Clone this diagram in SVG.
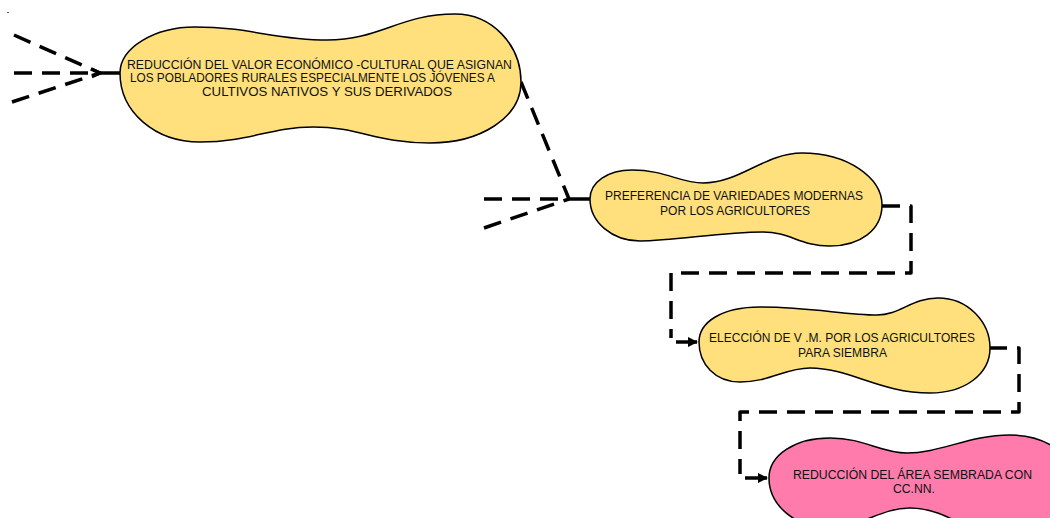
<svg xmlns="http://www.w3.org/2000/svg" width="1050" height="518" viewBox="0 0 1050 518">
  <defs>
    <style>
      .node { stroke: #000; stroke-width: 1.5; }
      .yellow { fill: #FFE07D; }
      .pink { fill: #FF7BAC; }
      .lbl { font-family: "Liberation Sans", Arial, sans-serif; font-size: 12px; fill: #111; }
      .dash { fill: none; stroke: #000; stroke-width: 3.5; stroke-dasharray: 18 10; stroke-linejoin: round; }
      .solid { fill: none; stroke: #000; stroke-width: 3.5; }
    </style>
    <marker id="arrow" viewBox="0 0 10 10" refX="9" refY="5" markerWidth="3" markerHeight="3" orient="auto" markerUnits="strokeWidth">
      <path d="M0,0 L10,5 L0,10 Z" fill="#000"/>
    </marker>
  </defs>
  <rect width="1050" height="518" fill="#fff"/>
  <rect x="7" y="12" width="2" height="1" fill="#555"/>

  <g id="connectors">
    <!-- into node 1 -->
    <line class="dash" x1="14" y1="35" x2="100" y2="73"/>
    <line class="dash" x1="14" y1="73" x2="100" y2="73"/>
    <line class="dash" x1="12" y1="102" x2="100" y2="73"/>
    <path d="M92,69 L101,73 L92,77" fill="none" stroke="#000" stroke-width="2.5"/>
    <line class="solid" x1="98" y1="73" x2="121" y2="73"/>
    <!-- into node 2 -->
    <line class="dash" x1="521" y1="82" x2="569" y2="199"/>
    <line class="dash" x1="484" y1="199" x2="569" y2="199"/>
    <line class="dash" x1="484" y1="228" x2="569" y2="199"/>
    <line class="solid" x1="567" y1="199" x2="591" y2="199"/>
    <!-- node 2 to node 3 -->
    <path class="dash" d="M882,206 H911 V273 H671 V338"/>
    <line class="solid" x1="676" y1="342" x2="697" y2="342" stroke-width="3" marker-end="url(#arrow)"/>
    <!-- node 3 to node 4 -->
    <path class="dash" d="M989,348 H1019 V412 H740 V474"/>
    <line class="solid" x1="745" y1="478" x2="767" y2="478" stroke-width="3" marker-end="url(#arrow)"/>
  </g>

  <g id="node1">
    <path class="node yellow" d="M120,73 C120,48 154,27 195,27 C250,27 275,40 327,40 C380,40 400,14 455,14 C492,14 521,45 521,82 C521,118 480,143 430,143 C375,143 360,127 313,127 C270,127 250,142 200,142 C155,142 120,112 120,73 Z"/>
    <text class="lbl" x="127" y="69.3" textLength="385" lengthAdjust="spacingAndGlyphs">REDUCCIÓN DEL VALOR ECONÓMICO -CULTURAL QUE ASIGNAN</text>
    <text class="lbl" x="130" y="82.3" textLength="365" lengthAdjust="spacingAndGlyphs">LOS POBLADORES RURALES ESPECIALMENTE LOS JÓVENES A</text>
    <text class="lbl" x="202" y="95.7" textLength="250" lengthAdjust="spacingAndGlyphs">CULTIVOS NATIVOS Y SUS DERIVADOS</text>
  </g>

  <g id="node2">
    <path class="node yellow" d="M590,199 C590,182 608,170 632,170 C665,170 680,183 703,183 C740,183 765,153 802,153 C848,153 882,178 882,205 C882,230 860,246 830,246 C800,246 790,232 763,232 C720,232 675,241 640,241 C612,241 590,222 590,199 Z"/>
    <text class="lbl" x="605" y="199.5" textLength="258" lengthAdjust="spacingAndGlyphs">PREFERENCIA DE VARIEDADES MODERNAS</text>
    <text class="lbl" x="660" y="214.5" textLength="150" lengthAdjust="spacingAndGlyphs">POR LOS AGRICULTORES</text>
  </g>

  <g id="node3">
    <path class="node yellow" d="M699,342 C699,322 722,307 760,307 C810,307 845,315 877,315 C900,315 912,298 938,298 C968,298 990,322 990,348 C990,374 965,393 930,393 C880,393 850,368 810,368 C785,368 770,382 740,382 C715,382 699,364 699,342 Z"/>
    <text class="lbl" x="709" y="341.5" textLength="266" lengthAdjust="spacingAndGlyphs">ELECCIÓN DE V .M. POR LOS AGRICULTORES</text>
    <text class="lbl" x="798" y="356.5" textLength="89" lengthAdjust="spacingAndGlyphs">PARA SIEMBRA</text>
  </g>

  <g id="node4">
    <path class="node pink" d="M769,478 C769,455 795,438 830,438 C865,438 880,453 907,453 C940,453 970,435 1010,435 C1050,435 1080,460 1080,490 C1080,520 1050,540 1010,540 C975,540 950,508 910,508 C880,508 860,528 830,528 C795,528 769,505 769,478 Z"/>
    <text class="lbl" x="793" y="479" textLength="239" lengthAdjust="spacingAndGlyphs">REDUCCIÓN DEL ÁREA SEMBRADA CON</text>
    <text class="lbl" x="893" y="492.5" textLength="42" lengthAdjust="spacingAndGlyphs">CC.NN.</text>
  </g>
</svg>
